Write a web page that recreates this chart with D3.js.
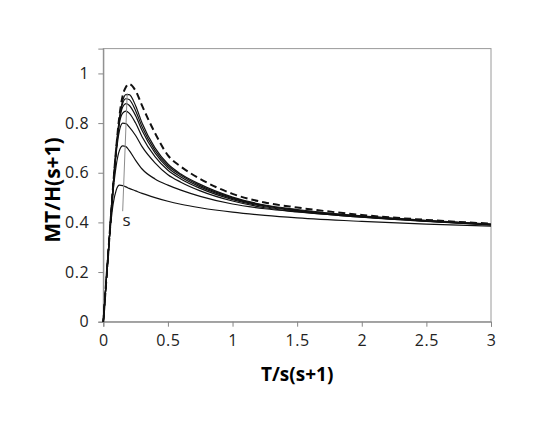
<!DOCTYPE html>
<html>
<head>
<meta charset="utf-8">
<script src="https://cdn.jsdelivr.net/npm/d3@7"></script>
<style>
  body { margin: 0; background: #fff; }
  svg { display: block; font-family: "Open Sans", sans-serif; }
</style>
</head>
<body>
<div id="canvas"></div>
<script>
const xs = [0, 0.025, 0.05, 0.075, 0.1, 0.125, 0.15, 0.175, 0.2, 0.25, 0.3, 0.4, 0.5, 0.6, 0.75, 1, 1.25, 1.5, 2, 2.5, 3];

// solid curves, lowest peak first
const curve1 = [0, 0.18, 0.35, 0.47, 0.53, 0.55, 0.548, 0.543, 0.537, 0.527, 0.517, 0.5, 0.485, 0.473, 0.459, 0.441, 0.428, 0.418, 0.404, 0.393, 0.385];
const curve2 = [0, 0.18, 0.36, 0.52, 0.63, 0.69, 0.708, 0.705, 0.69, 0.65, 0.615, 0.575, 0.55, 0.53, 0.505, 0.474, 0.455, 0.442, 0.421, 0.405, 0.39];
const curve3 = [0, 0.18, 0.36, 0.54, 0.68, 0.77, 0.8, 0.798, 0.785, 0.75, 0.705, 0.64, 0.592, 0.562, 0.527, 0.486, 0.459, 0.443, 0.421, 0.404, 0.39];
const curve4 = [0, 0.18, 0.36, 0.54, 0.69, 0.8, 0.84, 0.848, 0.84, 0.8, 0.745, 0.665, 0.61, 0.575, 0.537, 0.492, 0.463, 0.446, 0.423, 0.405, 0.391];
const curve5 = [0, 0.18, 0.36, 0.54, 0.69, 0.81, 0.865, 0.878, 0.872, 0.83, 0.77, 0.68, 0.62, 0.583, 0.543, 0.496, 0.466, 0.448, 0.424, 0.406, 0.392];
const curve6 = [0, 0.18, 0.36, 0.54, 0.7, 0.815, 0.88, 0.898, 0.895, 0.85, 0.785, 0.69, 0.628, 0.59, 0.548, 0.499, 0.468, 0.45, 0.425, 0.407, 0.392];
const curve7 = [0, 0.18, 0.36, 0.54, 0.7, 0.82, 0.89, 0.915, 0.915, 0.87, 0.8, 0.7, 0.635, 0.595, 0.553, 0.502, 0.47, 0.452, 0.426, 0.408, 0.393];
// dashed curve
const dashed = [0, 0.18, 0.36, 0.54, 0.7, 0.83, 0.91, 0.945, 0.957, 0.93, 0.87, 0.76, 0.67, 0.625, 0.575, 0.515, 0.48, 0.46, 0.43, 0.41, 0.395];

const xTicks = [0, 0.5, 1, 1.5, 2, 2.5, 3];
const yTicks = [0, 0.2, 0.4, 0.6, 0.8, 1];

// "s" arrow: from bottom to top
const arrowPts = [[0.15, 0.445], [0.185, 0.92]];
const arrowLabel = { x: 0.18, y: 0.385, text: "s" };

const width = 554, height = 428;
const margin = { top: 48.6, right: 63, bottom: 106.3, left: 103.3 };
const w = width - margin.left - margin.right;
const h = height - margin.top - margin.bottom;

const svg = d3.select("#canvas").append("svg")
  .attr("width", width)
  .attr("height", height);

const g = svg.append("g")
  .attr("transform", "translate(" + margin.left + "," + margin.top + ")");

const x = d3.scaleLinear().domain([0, 3]).range([0, w]);
const y = d3.scaleLinear().domain([0, 1.1]).range([h, 0]);

// plot frame (top/right)
g.append("rect")
  .attr("width", w).attr("height", h)
  .attr("fill", "none").attr("stroke", "#9a9a9a").attr("stroke-width", 1);

const xAxis = g.append("g")
  .attr("transform", "translate(0," + h + ")")
  .call(d3.axisBottom(x).tickValues(xTicks).tickSize(5).tickPadding(8).tickFormat(d3.format("")));
const yAxis = g.append("g")
  .call(d3.axisLeft(y).tickValues(yTicks).tickSize(5).tickPadding(9).tickFormat(d3.format("")));

[xAxis, yAxis].forEach((a) => {
  a.select(".domain").attr("stroke", "#868686");
  a.selectAll(".tick line").attr("stroke", "#868686");
  a.selectAll(".tick text").attr("fill", "#222").style("font-size", "16px")
    .style("letter-spacing", "0.6px")
    .style("font-family", "'Open Sans', sans-serif");
});

const line = d3.line()
  .x((d) => x(d[0]))
  .y((d) => y(d[1]))
  .curve(d3.curveMonotoneX);

const solids = [curve1, curve2, curve3, curve4, curve5, curve6, curve7];
solids.forEach((c) => {
  g.append("path")
    .datum(xs.map((v, i) => [v, c[i]]))
    .attr("fill", "none")
    .attr("stroke", "#111")
    .attr("stroke-width", 1.2)
    .attr("d", line);
});

g.append("path")
  .datum(xs.map((v, i) => [v, dashed[i]]))
  .attr("fill", "none")
  .attr("stroke", "#111")
  .attr("stroke-width", 2)
  .attr("stroke-dasharray", "7,4")
  .attr("d", line);

// arrow line for s
g.append("line")
  .attr("x1", x(arrowPts[0][0])).attr("y1", y(arrowPts[0][1]))
  .attr("x2", x(arrowPts[1][0])).attr("y2", y(arrowPts[1][1]))
  .attr("stroke", "#8c8c8c").attr("stroke-width", 1);

g.append("text")
  .attr("x", x(arrowLabel.x)).attr("y", y(arrowLabel.y))
  .attr("text-anchor", "middle")
  .style("font-size", "17px")
  .attr("fill", "#222")
  .text(arrowLabel.text);

// axis titles
svg.append("text")
  .attr("x", margin.left + w / 2)
  .attr("y", 381)
  .attr("text-anchor", "middle")
  .style("font-size", "19px")
  .style("font-weight", "bold")
  .text("T/s(s+1)");

svg.append("text")
  .attr("transform", "translate(60,190) rotate(-90)")
  .attr("text-anchor", "middle")
  .style("font-size", "21px")
  .style("font-weight", "bold")
  .text("MT/H(s+1)");
</script>
</body>
</html>
